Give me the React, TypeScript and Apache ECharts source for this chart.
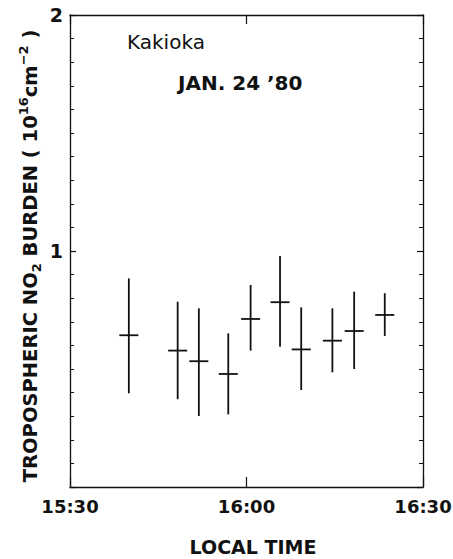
import React, { useEffect, useRef } from "react";
import * as echarts from "echarts";

// minutes after 15:30
const TIME_MIN = [10.0, 18.3, 21.9, 26.9, 30.7, 35.7, 39.3, 44.6, 48.3, 53.5];
const CENTER = [0.643, 0.578, 0.533, 0.479, 0.712, 0.783, 0.583, 0.62, 0.661, 0.729];
const UPPER = [0.884, 0.785, 0.757, 0.651, 0.856, 0.979, 0.761, 0.757, 0.828, 0.821];
const LOWER = [0.397, 0.372, 0.301, 0.308, 0.578, 0.594, 0.411, 0.486, 0.5, 0.64];
const X_LABELS = ["15:30", "16:00", "16:30"];
const Y_LABELS = ["", "1", "2"];

const FONT = "DejaVu Sans";
const INK = "#111";

export default function App() {
  const ref = useRef<HTMLDivElement>(null);
  useEffect(() => {
    document.body.style.margin = "0";
    if (!ref.current) return;
    const chart = echarts.init(ref.current, null, { renderer: "svg" });
    const data = TIME_MIN.map((t, i) => [t, CENTER[i], LOWER[i], UPPER[i]]);
    const lineStyle = { color: INK, width: 1.3 };
    const xBase = {
      type: "value" as const,
      min: 0,
      max: 60,
      interval: 30,
      axisLine: { show: true, onZero: false, lineStyle },
      splitLine: { show: false },
    };
    const yBase = {
      type: "value" as const,
      min: 0,
      max: 2,
      interval: 1,
      axisLine: { show: true, onZero: false, lineStyle },
      axisTick: { show: true, inside: true, length: 6, lineStyle: { color: INK, width: 1.2 } },
      minorTick: { show: true, splitNumber: 10, length: 4, lineStyle: { color: INK, width: 1 } },
      splitLine: { show: false },
    };
    chart.setOption({
      animation: false,
      backgroundColor: "#fff",
      grid: { left: 70, right: 30, top: 15, bottom: 72, containLabel: false, outerBoundsMode: "none" },
      xAxis: [
        {
          ...xBase,
          position: "bottom",
          axisTick: { show: true, inside: true, length: 10, lineStyle: { color: INK, width: 1.2 } },
          axisLabel: {
            formatter: (v: number) => X_LABELS[Math.round(v / 30)],
            fontSize: 18,
            fontWeight: "bold",
            fontFamily: FONT,
            color: INK,
            margin: 10,
          },
        },
        {
          ...xBase,
          position: "top",
          axisTick: { show: true, inside: true, length: 9, lineStyle: { color: INK, width: 1.2 } },
          axisLabel: { show: false },
        },
      ],
      yAxis: [
        {
          ...yBase,
          position: "left",
          axisLabel: {
            formatter: (v: number) => Y_LABELS[Math.round(v)],
            fontSize: 19,
            fontWeight: "bold",
            fontFamily: FONT,
            color: INK,
            margin: 7,
          },
        },
        {
          ...yBase,
          position: "right",
          axisLabel: { show: false },
        },
      ],
      graphic: [
        {
          type: "text",
          x: 127,
          y: 42,
          style: {
            text: "Kakioka",
            fontSize: 20,
            fontFamily: FONT,
            fill: INK,
            align: "left",
            verticalAlign: "middle",
          },
        },
        {
          type: "text",
          x: 178,
          y: 83,
          style: {
            text: "JAN. 24 \u201980",
            fontSize: 20,
            fontWeight: "bold",
            fontFamily: FONT,
            fill: INK,
            align: "left",
            verticalAlign: "middle",
          },
        },
        {
          type: "text",
          x: 253,
          y: 547,
          style: {
            text: "LOCAL TIME",
            fontSize: 19,
            fontWeight: "bold",
            fontFamily: FONT,
            fill: INK,
            align: "center",
            verticalAlign: "middle",
          },
        },
        {
          type: "text",
          x: 30,
          y: 256,
          rotation: Math.PI / 2,
          style: {
            text: "{b|TROPOSPHERIC NO}{sub|2}{b| BURDEN ( 10}{sup|16}{b|cm}{sup|\u22122}{b| )}",
            align: "center",
            verticalAlign: "middle",
            fill: INK,
            rich: {
              b: { fontSize: 19.5, fontWeight: "bold", fontFamily: FONT, fill: INK, lineHeight: 26, verticalAlign: "middle" },
              sup: { fontSize: 13, fontWeight: "bold", fontFamily: FONT, fill: INK, lineHeight: 12, verticalAlign: "top" },
              sub: { fontSize: 13, fontWeight: "bold", fontFamily: FONT, fill: INK, lineHeight: 12, verticalAlign: "bottom" },
            },
          },
        },
      ],
      series: [
        {
          type: "custom",
          xAxisIndex: 0,
          yAxisIndex: 0,
          data,
          renderItem: (_params: any, api: any) => {
            const x = api.value(0);
            const c = api.value(1);
            const lo = api.value(2);
            const hi = api.value(3);
            const pc = api.coord([x, c]);
            const plo = api.coord([x, lo]);
            const phi = api.coord([x, hi]);
            const st = { stroke: INK, lineWidth: 1.8 };
            return {
              type: "group",
              children: [
                { type: "line", shape: { x1: pc[0], y1: phi[1], x2: pc[0], y2: plo[1] }, style: st },
                { type: "line", shape: { x1: pc[0] - 9.5, y1: pc[1], x2: pc[0] + 9.5, y2: pc[1] }, style: st },
              ],
            };
          },
        },
      ],
    });
    return () => chart.dispose();
  }, []);
  return <div ref={ref} style={{ width: 453, height: 559 }} />;
}
